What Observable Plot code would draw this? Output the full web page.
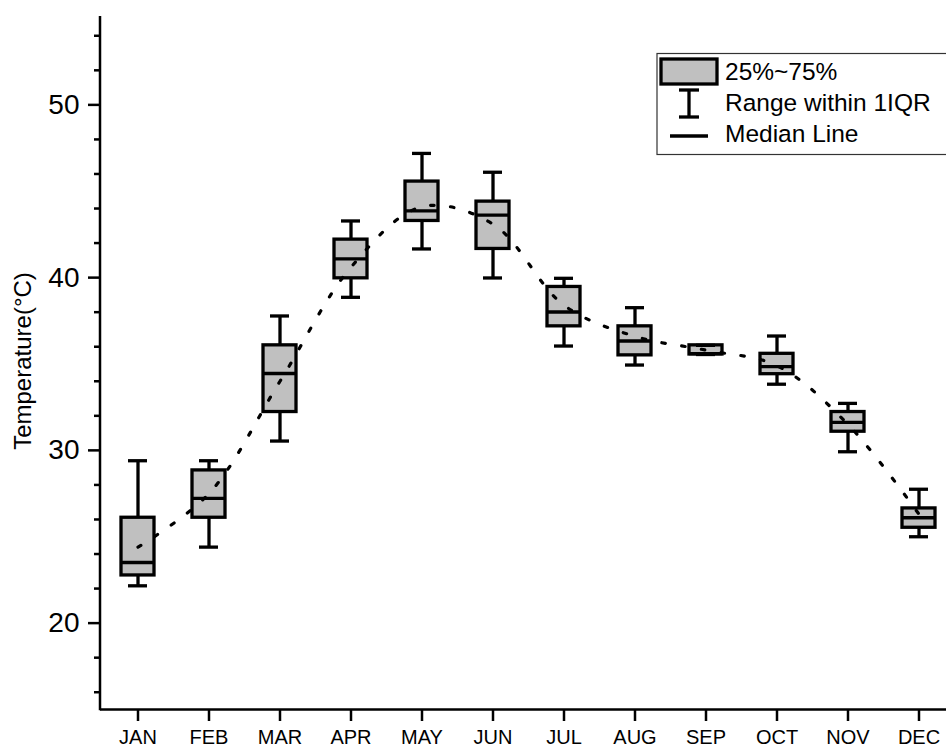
<!DOCTYPE html>
<html>
<head>
<meta charset="utf-8">
<script src="https://cdn.jsdelivr.net/npm/d3@7"></script>
<script src="https://cdn.jsdelivr.net/npm/@observablehq/plot@0.6"></script>
<style>
  html, body { margin: 0; padding: 0; background: #fff; }
  #chart { width: 946px; height: 749px; overflow: hidden; }
</style>
</head>
<body>
<div id="chart"></div>
<script>
const months = ["JAN","FEB","MAR","APR","MAY","JUN","JUL","AUG","SEP","OCT","NOV","DEC"];
const lowWhisker  = [22.16, 24.40, 30.54, 38.86, 41.66, 39.98, 36.04, 34.94, 35.55, 33.83, 29.92, 25.00];
const q1          = [22.76, 26.10, 32.22, 39.96, 43.28, 41.66, 37.18, 35.50, 35.55, 34.41, 31.08, 25.52];
const median      = [23.51, 27.22, 34.45, 41.08, 43.86, 43.62, 38.01, 36.33, 35.60, 34.85, 31.62, 26.10];
const q3          = [26.10, 28.84, 36.08, 42.20, 45.56, 44.40, 39.46, 37.18, 36.08, 35.59, 32.22, 26.64];
const highWhisker = [29.40, 29.40, 37.78, 43.28, 47.19, 46.10, 39.96, 38.26, 36.08, 36.62, 32.72, 27.75];
const mean        = [24.4, 27.5, 34.0, 40.6, 44.1, 43.1, 38.4, 36.6, 35.8, 34.9, 31.5, 26.3];
const yMajorTicks = [20, 30, 40, 50];
const yMinorTicks = [16, 18, 22, 24, 26, 28, 32, 34, 36, 38, 42, 44, 46, 48, 52, 54];
const yTitle = "Temperature(°C)";
const legendLabels = ["25%~75%", "Range within 1IQR", "Median Line"];

const data = months.map((m, i) => ({
  month: m, low: lowWhisker[i], q1: q1[i], median: median[i], q3: q3[i], high: highWhisker[i], mean: mean[i]
}));

const FONT = "'Liberation Sans', Arial, Helvetica, sans-serif";
const SW = 3.3;

const plot = Plot.plot({
  width: 946,
  height: 749,
  marginLeft: 100,
  marginRight: 0,
  marginTop: 18,
  marginBottom: 40,
  style: { fontFamily: FONT, color: "black", background: "white", overflow: "visible" },
  x: {
    type: "band", domain: months, range: [100, 956.5],
    paddingInner: 0.538, paddingOuter: 0.2587
  },
  y: { domain: [15, 55] },
  marks: [
    Plot.ruleX(data, { x: "month", y1: "low", y2: "q1", stroke: "black", strokeWidth: SW }),
    Plot.ruleX(data, { x: "month", y1: "q3", y2: "high", stroke: "black", strokeWidth: SW }),
    Plot.barY(data, { x: "month", y1: "q1", y2: "q3", fill: "#c0c0c0", stroke: "black", strokeWidth: SW }),
    Plot.tickY(data, { x: "month", y: "median", stroke: "black", strokeWidth: SW }),
    Plot.tickY(data, { x: "month", y: "low", stroke: "black", strokeWidth: SW, insetLeft: 7, insetRight: 7 }),
    Plot.tickY(data, { x: "month", y: "high", stroke: "black", strokeWidth: SW, insetLeft: 7, insetRight: 7 }),
    Plot.line(data, { x: "month", y: "mean", curve: "catmull-rom", stroke: "black", strokeWidth: 3.2, strokeDasharray: "3.5 16.5" }),
    Plot.axisY(yMajorTicks, { tickSize: 12, tickPadding: 9, strokeWidth: 2.5, fontSize: 28, label: null }),
    Plot.axisY(yMinorTicks, { tickSize: 6, strokeWidth: 2.5, tickFormat: () => "", label: null }),
    Plot.axisX({ tickSize: 12, tickPadding: 8, strokeWidth: 2.5, fontSize: 20, label: null }),
    Plot.ruleY([15], { stroke: "black", strokeWidth: 2.5 })
  ]
});

document.getElementById("chart").appendChild(plot);

const svg = d3.select(plot);
const yScale = plot.scale("y");
const yTop = Math.min(...yScale.range) - 2;
const yBot = Math.max(...yScale.range);

// left axis line
svg.append("line")
  .attr("x1", 100).attr("x2", 100).attr("y1", yTop).attr("y2", yBot + 1.25)
  .attr("stroke", "black").attr("stroke-width", 2.5);

// y title
svg.append("text")
  .attr("transform", `translate(31, 361) rotate(-90)`)
  .attr("text-anchor", "middle")
  .attr("font-family", FONT)
  .attr("font-size", 24)
  .attr("fill", "black")
  .text(yTitle);

// legend
const lg = svg.append("g");
lg.append("rect").attr("x", 657).attr("y", 53.5).attr("width", 320).attr("height", 101)
  .attr("fill", "white").attr("stroke", "#333").attr("stroke-width", 1.2);
lg.append("rect").attr("x", 661).attr("y", 59).attr("width", 56).attr("height", 25)
  .attr("fill", "#c0c0c0").attr("stroke", "black").attr("stroke-width", 3.3);
lg.append("line").attr("x1", 689).attr("x2", 689).attr("y1", 90).attr("y2", 117)
  .attr("stroke", "black").attr("stroke-width", 3.3);
lg.append("line").attr("x1", 679).attr("x2", 699).attr("y1", 90).attr("y2", 90)
  .attr("stroke", "black").attr("stroke-width", 3.3);
lg.append("line").attr("x1", 679).attr("x2", 699).attr("y1", 117).attr("y2", 117)
  .attr("stroke", "black").attr("stroke-width", 3.3);
lg.append("line").attr("x1", 670).attr("x2", 708).attr("y1", 136).attr("y2", 136)
  .attr("stroke", "black").attr("stroke-width", 3.3);
const baselines = [80, 111, 142];
legendLabels.forEach((t, i) => {
  lg.append("text").attr("x", 725).attr("y", baselines[i])
    .attr("text-anchor", "start")
    .attr("font-family", FONT).attr("font-size", 24.5).attr("fill", "black").text(t);
});
</script>
</body>
</html>
